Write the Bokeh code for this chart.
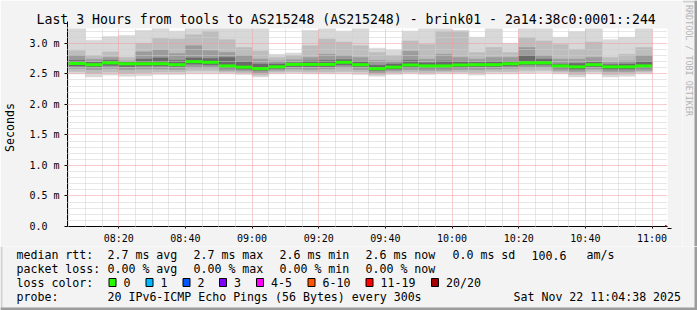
import math
import pandas as pd
from bokeh.plotting import figure
from bokeh.layouts import column, row
from bokeh.core.properties import value
from bokeh.models import (ColumnDataSource, FixedTicker, DatetimeTickFormatter,
                          CustomJSTickFormatter, Arrow, NormalHead, Range1d)
from bokeh.embed import file_html
from bokeh.resources import INLINE

W, H = 697, 310
CH = 246            # chart canvas height; legend below
WM = 15             # watermark strip width at the right
FONT = "DejaVu Sans Mono"

# ---------------- data ----------------
title_text = "Last 3 Hours from tools to AS215248 (AS215248) - brink01 - 2a14:38c0:0001::244"
watermark_text = "RRDTOOL / TOBI OETIKER"
view_start = "2025-11-22 08:04:38"
view_end = "2025-11-22 11:04:38"
first_step_start = "2025-11-22 08:05:00"
step_seconds = 300

# smoke: sorted ping levels per 5-minute step (ms)
ping_max = [3.243, 3.05, 3.11, 3.13, 3.21, 3.243, 3.20, 3.243, 3.243, 3.243,
            3.243, 3.243, 2.82, 2.84, 3.21, 3.243, 3.20, 3.243, 2.92, 2.89,
            3.20, 3.243, 3.243, 3.21, 3.10, 3.243, 3.00, 3.243, 3.243, 3.10,
            3.19, 3.243, 3.06, 3.10, 3.243]
ping_hi1 = [2.88, 2.80, 2.86, 2.77, 3.00, 3.08, 3.07, 3.14, 3.20, 3.06,
            2.93, 2.875, 2.77, 2.80, 2.96, 3.07, 3.02, 2.96, 2.85, 2.80,
            3.04, 2.98, 3.20, 3.20, 2.85, 2.93, 2.85, 3.09, 3.04, 2.98,
            2.90, 3.02, 2.77, 2.82, 2.93]
ping_hi2 = [2.80, 2.74, 2.77, 2.71, 2.86, 2.89, 2.83, 2.96, 2.88, 2.85,
            2.80, 2.74, 2.71, 2.73, 2.77, 2.82, 2.80, 2.77, 2.72, 2.71,
            2.87, 2.74, 2.82, 2.77, 2.74, 2.77, 2.77, 2.93, 2.80, 2.74,
            2.74, 2.77, 2.69, 2.71, 2.80]
ping_hi3 = [2.72, 2.69, 2.72, 2.69, 2.74, 2.76, 2.72, 2.76, 2.75, 2.77,
            2.70, 2.66, 2.66, 2.68, 2.71, 2.72, 2.73, 2.70, 2.64, 2.66,
            2.72, 2.68, 2.71, 2.70, 2.69, 2.70, 2.70, 2.80, 2.74, 2.66,
            2.67, 2.69, 2.65, 2.66, 2.70]
median_rtt = [2.67, 2.65, 2.68, 2.665, 2.665, 2.665, 2.65, 2.70, 2.69, 2.63,
              2.61, 2.585, 2.615, 2.655, 2.655, 2.655, 2.69, 2.65, 2.585, 2.61,
              2.645, 2.63, 2.63, 2.645, 2.65, 2.65, 2.665, 2.68, 2.68, 2.63,
              2.615, 2.65, 2.615, 2.615, 2.63]
ping_lo3 = [2.63, 2.62, 2.64, 2.62, 2.63, 2.63, 2.62, 2.66, 2.65, 2.60,
            2.58, 2.56, 2.59, 2.62, 2.62, 2.62, 2.65, 2.62, 2.56, 2.58,
            2.61, 2.60, 2.60, 2.61, 2.62, 2.62, 2.63, 2.65, 2.65, 2.60,
            2.58, 2.62, 2.58, 2.58, 2.60]
ping_lo2 = [2.59, 2.57, 2.59, 2.57, 2.58, 2.58, 2.57, 2.60, 2.60, 2.56,
            2.55, 2.52, 2.56, 2.58, 2.57, 2.58, 2.60, 2.57, 2.52, 2.55,
            2.57, 2.56, 2.56, 2.57, 2.57, 2.58, 2.59, 2.60, 2.61, 2.56,
            2.54, 2.58, 2.54, 2.54, 2.56]
ping_lo1 = [2.54, 2.51, 2.53, 2.51, 2.52, 2.53, 2.53, 2.55, 2.55, 2.53,
            2.52, 2.48, 2.53, 2.54, 2.53, 2.53, 2.54, 2.53, 2.49, 2.52,
            2.53, 2.52, 2.53, 2.53, 2.52, 2.54, 2.54, 2.55, 2.56, 2.53,
            2.49, 2.54, 2.49, 2.50, 2.53]
ping_min = [2.50, 2.45, 2.48, 2.46, 2.47, 2.49, 2.49, 2.50, 2.50, 2.50,
            2.49, 2.45, 2.50, 2.51, 2.50, 2.50, 2.50, 2.49, 2.46, 2.49,
            2.50, 2.49, 2.50, 2.50, 2.48, 2.50, 2.50, 2.51, 2.52, 2.50,
            2.45, 2.50, 2.45, 2.46, 2.50]

y_ticks = [0.0, 0.5, 1.0, 1.5, 2.0, 2.5, 3.0]
y_minor = [0.1, 0.2, 0.3, 0.4, 0.6, 0.7, 0.8, 0.9, 1.1, 1.2, 1.3, 1.4,
           1.6, 1.7, 1.8, 1.9, 2.1, 2.2, 2.3, 2.4, 2.6, 2.7, 2.8, 2.9,
           3.1, 3.2]
x_tick_labels = ["08:20", "08:40", "09:00", "09:20", "09:40", "10:00",
                 "10:20", "10:40", "11:00"]
day = "2025-11-22"

legend_rows = [
    [("median rtt:", 16), ("2.7 ms avg", 107), ("2.7 ms max", 193),
     ("2.6 ms min", 279), ("2.6 ms now", 365), ("0.0 ms sd", 452),
     ("100.6", 531), ("am/s", 586)],
    [("packet loss:", 16), ("0.00 % avg", 107), ("0.00 % max", 193),
     ("0.00 % min", 279), ("0.00 % now", 365)],
    [("loss color:", 16)],
    [("probe:", 16), ("20 IPv6-ICMP Echo Pings (56 Bytes) every 300s", 107),
     ("Sat Nov 22 11:04:38 2025", 513)],
]
legend_row_y = [254.5, 268, 282, 296]
loss_labels = ["0", "1", "2", "3", "4-5", "6-10", "11-19", "20/20"]
loss_colors = ["#26ff00", "#00b8ff", "#0059ff", "#7e00ff", "#ff00ff",
               "#ff5500", "#ff0000", "#a10000"]
loss_box_x = [108.5, 145.5, 182.5, 219, 256, 307.5, 365.5, 431]

BG = "#f3f3f3"
LIGHT_EDGE = "#d2d2d2"
DARK_EDGE = "#9c9c9c"

# ---------------- chart ----------------
n = len(median_rtt)
starts = pd.date_range(first_step_start, periods=n, freq=f"{step_seconds}s")
ends = starts + pd.Timedelta(seconds=step_seconds)
src = ColumnDataSource(dict(start=starts, end=ends, mx=ping_max, h1=ping_hi1,
                            h2=ping_hi2, h3=ping_hi3, med=median_rtt,
                            l3=ping_lo3, l2=ping_lo2, l1=ping_lo1, mn=ping_min))

p = figure(width=W - WM, height=CH, x_axis_type="datetime", output_backend="svg",
           toolbar_location=None,
           x_range=Range1d(pd.Timestamp(view_start), pd.Timestamp(view_end)),
           y_range=Range1d(0, 3.243))
p.frame_align = False
p.min_border_left = 67
p.min_border_right = 15
p.min_border_top = 28
p.min_border_bottom = 18
p.border_fill_color = BG
p.background_fill_color = "white"
p.outline_line_color = None

p.title.text = title_text
p.title.text_font = FONT
p.title.text_font_size = "13.2px"
p.title.text_font_style = "normal"
p.title.text_color = "black"
p.title.align = "left"
p.title.offset = -31
p.title.standoff = 3

bands = [("mn", "mx", "#d8d8d8"), ("l1", "h1", "#bdbdbd"),
         ("l2", "h2", "#9b9b9b"), ("l3", "h3", "#6a6a6a")]
for lo, hi, col in bands:
    p.quad(left="start", right="end", bottom=lo, top=hi, source=src,
           fill_color=col, line_color=col, line_width=0.6)

med = p.segment(x0="start", x1="end", y0="med", y1="med", source=src,
                line_color="#26ff00", line_width=3, line_cap="butt")
med.level = "overlay"


def ms(t):
    return pd.Timestamp(t).value // 10**6


x_major = [ms(f"{day} {t}") for t in x_tick_labels]
x_minor = [ms(t) for t in pd.date_range(f"{day} 08:05", f"{day} 11:00", freq="5min")
           if ms(t) not in x_major]
p.xaxis.ticker = FixedTicker(ticks=x_major, minor_ticks=x_minor)
p.xaxis.formatter = DatetimeTickFormatter(minutes="%H:%M", hourmin="%H:%M",
                                          hours="%H:%M", minsec="%H:%M")
p.yaxis.ticker = FixedTicker(ticks=y_ticks, minor_ticks=y_minor)
p.yaxis.formatter = CustomJSTickFormatter(
    code="return tick == 0 ? '0.0\\u00a0\\u00a0' : tick.toFixed(1) + ' m';")

for g in (p.xgrid[0], p.ygrid[0]):
    g.level = "guide"
    g.grid_line_color = "#f09a9a"
    g.grid_line_dash = "1 1"
    g.grid_line_width = 1
    g.minor_grid_line_color = "#cfcfcf"
    g.minor_grid_line_dash = "1 1"
    g.minor_grid_line_width = 1

for ax in (p.xaxis[0], p.yaxis[0]):
    ax.axis_line_color = "black"
    ax.axis_line_width = 1
    ax.major_tick_line_color = "black"
    ax.major_tick_in = 0
    ax.minor_tick_line_color = None
    ax.major_label_text_font = FONT
    ax.major_label_text_font_size = "10px"
    ax.major_label_text_color = "black"
p.xaxis.major_tick_out = 2
p.xaxis.major_label_standoff = 2
p.yaxis.major_tick_out = 3
p.yaxis.major_label_standoff = 4
p.yaxis.axis_label = "Seconds"
p.yaxis.axis_label_text_font = FONT
p.yaxis.axis_label_text_font_size = "11.6px"
p.yaxis.axis_label_text_font_style = "normal"
p.yaxis.axis_label_text_color = "black"
p.yaxis.axis_label_standoff = 9

# axis arrows (canvas units, y from top)
p.add_layout(Arrow(x_start=67, y_start=28, x_end=67, y_end=21,
                   start_units="canvas", end_units="canvas",
                   line_color="black", line_width=1,
                   end=NormalHead(size=6, fill_color="#8b0000", line_color="#8b0000")))
p.add_layout(Arrow(x_start=667, y_start=228, x_end=671, y_end=228,
                   start_units="canvas", end_units="canvas",
                   line_color="black", line_width=1,
                   end=NormalHead(size=6, fill_color="#8b0000", line_color="#8b0000")))

# shade edges of the chart part
for x0, y0, x1, y1 in [(0, 1, W - WM, 1), (1, 0, 1, CH)]:
    p.add_layout(Arrow(x_start=x0, y_start=y0, x_end=x1, y_end=y1,
                       start_units="canvas", end_units="canvas", end=None,
                       line_color=LIGHT_EDGE, line_width=2))

# ---------------- watermark strip ----------------
wm = figure(width=WM, height=CH, output_backend="svg", toolbar_location=None,
            x_range=Range1d(W - WM, W), y_range=Range1d(CH, 0),
            x_axis_location=None, y_axis_location=None)
wm.frame_align = False
wm.min_border_left = wm.min_border_right = wm.min_border_top = wm.min_border_bottom = 0
wm.grid.visible = False
wm.outline_line_color = None
wm.background_fill_color = BG
wm.border_fill_color = BG
wm.text(x=[688.5], y=[60], text=[watermark_text], angle=-math.pi / 2,
        text_font=value(FONT), text_font_size="8.4px", text_color="#b4b4b4",
        text_align="center", text_baseline="middle")
wm.quad(left=[W - WM, W - 3], right=[W, W], top=[0, 0], bottom=[2, CH],
        fill_color=[LIGHT_EDGE, DARK_EDGE], line_color=None)

# ---------------- legend block ----------------
q = figure(width=W, height=H - CH, output_backend="svg", toolbar_location=None,
           x_range=Range1d(0, W), y_range=Range1d(H, CH),
           x_axis_location=None, y_axis_location=None)
q.frame_align = False
q.min_border_left = q.min_border_right = q.min_border_top = q.min_border_bottom = 0
q.grid.visible = False
q.outline_line_color = None
q.background_fill_color = BG
q.border_fill_color = BG

tx, ty, tt = [], [], []
for rw, yy in zip(legend_rows, legend_row_y):
    for text, xx in rw:
        tx.append(xx)
        ty.append(yy)
        tt.append(text)
for lab, bx in zip(loss_labels, loss_box_x):
    tx.append(bx + 14.5)
    ty.append(legend_row_y[2])
    tt.append(lab)
q.text(x=tx, y=ty, text=tt, text_font=value(FONT), text_font_size="11.6px",
       text_color="black", text_baseline="middle", text_align="left")

q.quad(left=loss_box_x, right=[b + 7 for b in loss_box_x],
       top=[legend_row_y[2] - 4] * len(loss_box_x),
       bottom=[legend_row_y[2] + 4] * len(loss_box_x),
       fill_color=loss_colors, line_color="black", line_width=1)

q.quad(left=[0, W - 3, 0], right=[2, W, W], top=[CH, CH, H - 3], bottom=[H, H, H],
       fill_color=[LIGHT_EDGE, DARK_EDGE, DARK_EDGE], line_color=None)

layout = column(row(p, wm, spacing=0), q, spacing=0)
open("out.html", "w").write(file_html(layout, INLINE))
